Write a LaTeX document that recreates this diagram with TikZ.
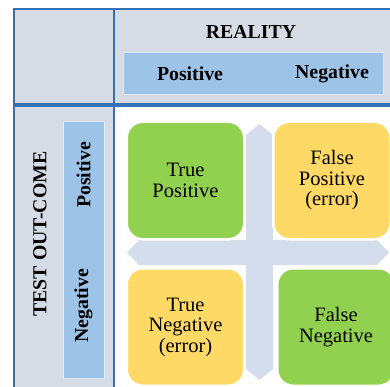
\documentclass[tikz,border=0pt]{standalone}
\usepackage{fontspec}
\setmainfont{Liberation Serif}
\usetikzlibrary{positioning}

\definecolor{framegray}{HTML}{D6DCE5}
\definecolor{frameblue}{HTML}{3571B5}
\definecolor{bandblue}{HTML}{9DC3E6}
\definecolor{bandedge}{HTML}{DDEAF6}
\definecolor{crossblue}{HTML}{D3DDEC}
\definecolor{boxgreen}{HTML}{92D050}
\definecolor{boxyellow}{HTML}{FFD966}

\begin{document}
\begin{tikzpicture}[
    x=1pt, y=-1pt,
    node distance=26.5pt,
    head/.style={font=\fontsize{19.8}{21}\selectfont\bfseries, inner sep=0pt},
    band/.style={fill=bandblue, draw=bandedge, line width=1pt, inner sep=0pt},
    box/.style={rectangle, rounded corners=16pt, draw=white, line width=2.5pt,
        minimum width=117.5pt, minimum height=117.5pt, align=center,
        font=\fontsize{20.5}{20.5}\selectfont},
    good/.style={box, fill=boxgreen},
    bad/.style={box, fill=boxyellow},
    rule/.style={draw=frameblue, line width=2.5pt}
]
\useasboundingbox (0,0) rectangle (390,387);
\clip (0,0) rectangle (390,387);

% header row and left column
\fill[framegray] (14,9) rectangle (400,105);
\fill[framegray] (14,105) rectangle (114,400);

% blue bands for the two axes
\node[band, minimum width=260pt, minimum height=42pt] (realband) at (253,74) {};
\node[band, minimum width=41pt, minimum height=256pt] (testband) at (83.5,250) {};

\node[head] (reality) at (251,32) {REALITY};
\node[head] (realpos) at (190,74) {Positive};
\node[head] (realneg) at (332,74) {Negative};

\node[head, rotate=90] (testout) at (40,234) {TEST OUT-COME};
\node[head, rotate=90] (testpos) at (83.5,175) {Positive};
\node[head, rotate=90] (testneg) at (83.5,306) {Negative};

% four-way cross behind the boxes
\fill[crossblue] (246,135) -- (259.5,124) -- (273,135) -- (273,240)
    -- (377,240) -- (389,252.5) -- (377,265) -- (273,265)
    -- (273,369) -- (259.5,380) -- (246,369) -- (246,265)
    -- (139,265) -- (127,252.5) -- (139,240) -- (246,240) -- cycle;

% outcome boxes
\node[good] (tp) at (185.5,180.5) {True\\Positive};
\node[bad, right=of tp] (fp) {False\\Positive\\(error)};
\node[bad, below=of tp] (tn) {True\\Negative\\(error)};
\node[good, right=30.5pt of tn] (fn) {False\\Negative};

% table rules
\draw[rule] (14,400) -- (14,9) -- (400,9);
\draw[rule] (114,9) -- (114,400);
\draw[rule, line width=3.5pt] (14,105) -- (400,105);
\end{tikzpicture}
\end{document}
